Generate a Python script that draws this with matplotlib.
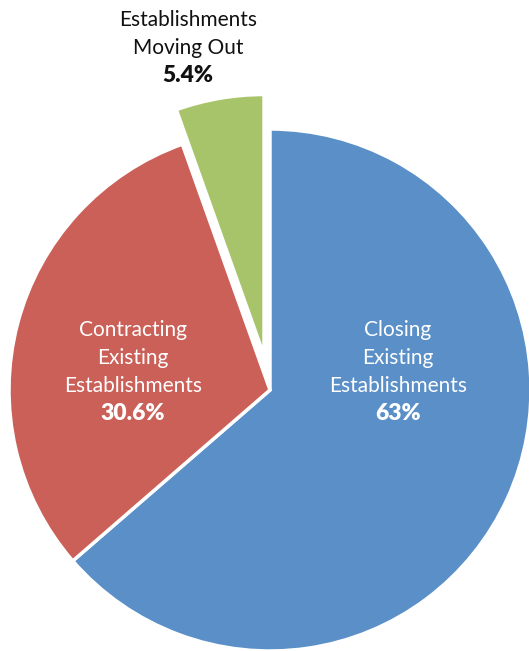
import matplotlib.pyplot as plt

# share of job losses by source
names = ['Closing\nExisting\nEstablishments', 'Contracting\nExisting\nEstablishments', 'Establishments\nMoving Out']
values = [63, 30.6, 5.4]
pct_text = ['63%', '30.6%', '5.4%']
colors = ['#5A8FC8', '#CB6058', '#A8C46B']
explode = [0, 0, 35]   # in data units (pixels here)

plt.rcParams['font.family'] = ['Lato', 'DejaVu Sans']

fig = plt.figure(figsize=(5.29, 6.51), dpi=100)
ax = fig.add_axes([0, 0, 1, 1])

ax.pie(values, colors=colors, explode=explode, startangle=90, counterclock=False,
       center=(270, 261), radius=261, frame=True,
       wedgeprops=dict(edgecolor='white', linewidth=2.5))
ax.set_xlim(0, 529)
ax.set_ylim(0, 651)
ax.axis('off')

# label positions (x, y of first line from top) and text colour
label_pos = [(398, 330), (133, 330), (188, 20)]
text_col = ['white', 'white', '#111111']
step = 28
for name, pct, (x, y), c in zip(names, pct_text, label_pos, text_col):
    lines = name.split('\n')
    for i, ln in enumerate(lines):
        ax.text(x, 651 - y - step * i, ln, ha='center', va='center',
                fontsize=15, color=c)
    ax.text(x, 651 - y - step * len(lines), pct, ha='center', va='center',
            fontsize=16.5, color=c, fontweight='heavy')

fig.savefig('out.png', dpi=100)
